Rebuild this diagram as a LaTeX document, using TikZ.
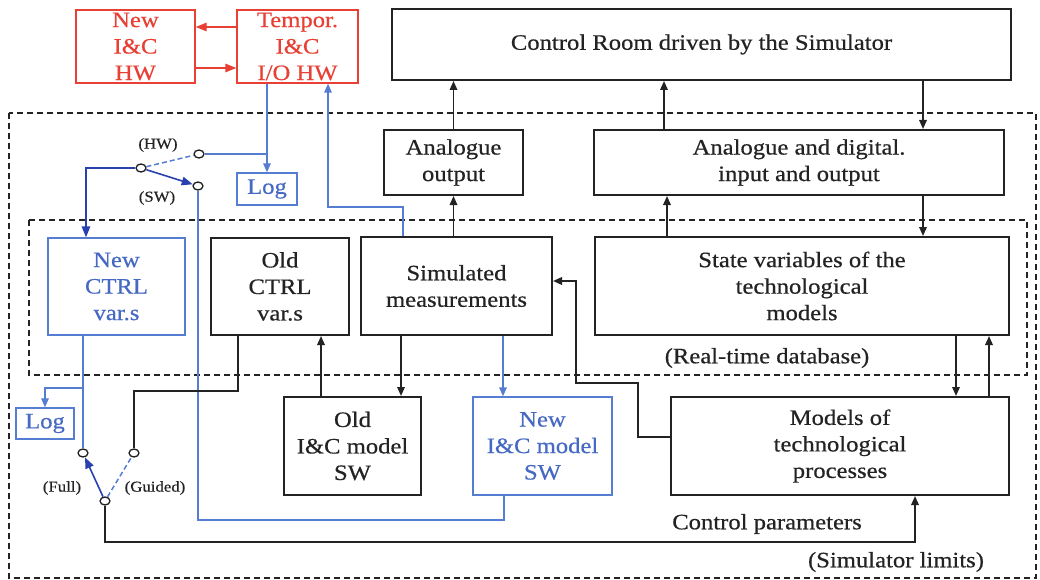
\documentclass[tikz,border=0pt]{standalone}
\usepackage{fontspec}
\setmainfont{Liberation Serif}[FakeStretch=1.12,FakeBold=0.5]
\usetikzlibrary{arrows.meta,shapes.geometric}
\definecolor{myred}{RGB}{232,64,52}
\definecolor{lblue}{RGB}{85,125,210}
\definecolor{dblue}{RGB}{40,65,175}
\definecolor{tblue}{RGB}{70,105,195}
\definecolor{ink}{RGB}{35,35,35}
\begin{document}
\begin{tikzpicture}[x=1pt,y=-1pt,
  every node/.style={font=\fontsize{22}{26.5}\selectfont, text=ink},
  box/.style={draw=ink, line width=2pt, inner sep=0pt, align=center},
  rbox/.style={draw=myred, line width=1.4pt, text=myred, inner sep=0pt, align=center},
  bbox/.style={draw=lblue, line width=1.4pt, text=tblue, inner sep=0pt, align=center},
  dashbox/.style={draw=ink, line width=1.6pt, dash pattern=on 6pt off 4pt},
  tip/.style={-{Triangle[length=9pt,width=7.5pt]}},
  bigtip/.style={-{Triangle[length=11pt,width=8.5pt]}},
  arr/.style={draw=ink, line width=1.7pt, tip},
  kline/.style={draw=ink, line width=1.7pt},
  rarr/.style={draw=myred, line width=1.4pt, bigtip},
  bline/.style={draw=lblue, line width=1.5pt},
  barr/.style={draw=lblue, line width=1.5pt, tip},
  dbarr/.style={draw=dblue, line width=1.6pt, bigtip},
  contact/.style={draw=ink, fill=white, ellipse, minimum width=10pt, minimum height=8pt, inner sep=0pt, line width=1.3pt},
  small/.style={font=\fontsize{15}{17}\selectfont},
]
\useasboundingbox (0,0) rectangle (1040,580);
\fill[white] (0,0) rectangle (1040,580);

% dashed frames
\draw[dashbox] (9,113) rectangle (1036,578);
\draw[dashbox] (29,220) rectangle (1027,375);

% boxes
\node[rbox, minimum width=119pt, minimum height=73pt] (newhw) at (135.5,46.5) {New\\I\&C\\HW};
\node[rbox, minimum width=121pt, minimum height=73pt] (temp) at (297.5,46.5) {Tempor.\\I\&C\\I/O HW};
\node[box, minimum width=619pt, minimum height=71pt] (cr) at (701.5,44.5) {Control Room driven by the Simulator};
\node[box, minimum width=139pt, minimum height=65pt] (ao) at (453.5,162.5) {Analogue\\output};
\node[box, minimum width=410pt, minimum height=65pt] (adio) at (799,162.5) {Analogue and digital.\\input and output};
\node[bbox, minimum width=137pt, minimum height=97pt] (newctrl) at (116.5,286.5) {New\\CTRL\\var.s};
\node[box, minimum width=138pt, minimum height=97pt] (oldctrl) at (280,286.5) {Old\\CTRL\\var.s};
\node[box, minimum width=191pt, minimum height=98pt] (simmeas) at (456.5,286) {Simulated\\measurements};
\node[box, minimum width=414pt, minimum height=98pt] (statevar) at (802,286) {State variables of the\\technological\\models};
\node[box, minimum width=137pt, minimum height=98pt] (oldic) at (352.5,446) {Old\\I\&C model\\SW};
\node[bbox, minimum width=139pt, minimum height=98pt] (newic) at (542.5,446) {New\\I\&C model\\SW};
\node[box, minimum width=338pt, minimum height=98pt] (models) at (840,446) {Models of\\technological\\processes};
\node[bbox, minimum width=60pt, minimum height=32pt] (log1) at (267,189) {Log};
\node[bbox, minimum width=58pt, minimum height=31pt] (log2) at (45,423.5) {Log};

% labels
\node[small] (lhw) at (158,145) {(HW)};
\node[small] (lsw) at (157,198) {(SW)};
\node[small] (lfull) at (62,488) {(Full)};
\node[small] (lguided) at (155,488) {(Guided)};
\node (lcp) at (767,524) {Control parameters};
\node (lrt) at (767,358) {(Real-time database)};
\node (lsl) at (896,562) {(Simulator limits)};

% red connectors
\draw[rarr] ([yshift=19.5pt]temp.west) -- ([yshift=19.5pt]newhw.east);
\draw[rarr] ([yshift=-21.5pt]newhw.east) -- ([yshift=-21.5pt]temp.west);

% switch contacts
\node[contact] (hw) at (199,154) {};
\node[contact] (sw) at (198,186) {};
\node[contact] (p1) at (141,168) {};
\node[contact] (full) at (83,453) {};
\node[contact] (guided) at (134,453) {};
\node[contact] (p2) at (105,501) {};

% helper coordinates
\coordinate (j1) at (328,207);
\coordinate (j2) at (267,154);
\coordinate (j4) at (83,388);
\coordinate (j5) at (86,168);
\coordinate (j6) at (238,391);
\coordinate (j7) at (915,542);
\coordinate (j8) at (504,520);
\coordinate (k1) at (638,383);
\coordinate (k2) at (576,281);
\coordinate (a1) at (321,0);
\coordinate (a2) at (401,0);
\coordinate (a3) at (503,0);
\coordinate (a4) at (664,0);
\coordinate (a5) at (923,0);
\coordinate (a6) at (667,0);
\coordinate (a7) at (956,0);
\coordinate (a8) at (989,0);

% blue connectors
\draw[barr] ([xshift=-53.5pt]simmeas.north) |- (j1) -- (j1 |- temp.south);
\draw[barr] (log1.north |- temp.south) -- (log1.north);
\draw[bline] (j2) -- (hw.east);
\draw[bline, dash pattern=on 5pt off 3pt] (p1) -- (hw);
\draw[dbarr] (p1) -- (sw);
\draw[dbarr] (p1.west) -- (j5) -- (j5 |- newctrl.north);
\draw[bline] (sw.south) |- (j8) -- (j8 |- newic.south);
\draw[bline] (full.north |- newctrl.south) -- (full.north);
\draw[barr] (j4) -| (log2.north);
\draw[dbarr] (p2) -- (full);
\draw[bline, dash pattern=on 5pt off 3pt] (p2) -- (guided);
\draw[barr] (simmeas.south -| a3) -- (newic.north -| a3);

% black connectors
\draw[kline] (j6 |- oldctrl.south) -- (j6) -| (guided.north);
\draw[arr] (p2.south) |- (j7) -- (j7 |- models.south);
\draw[arr] (oldic.north -| a1) -- (oldctrl.south -| a1);
\draw[arr] (simmeas.south -| a2) -- (oldic.north -| a2);
\draw[arr] (simmeas.north -| ao.south) -- (ao.south);
\draw[arr] (ao.north) -- (ao.north |- cr.south);
\draw[arr] (adio.north -| a4) -- (cr.south -| a4);
\draw[arr] (cr.south -| a5) -- (adio.north -| a5);
\draw[arr] (adio.south -| a5) -- (statevar.north -| a5);
\draw[arr] (statevar.north -| a6) -- (adio.south -| a6);
\draw[arr] (statevar.south -| a7) -- (models.north -| a7);
\draw[arr] (models.north -| a8) -- (statevar.south -| a8);
\draw[arr] ([yshift=9pt]models.west) -| (k1) -| (k2) -- (simmeas.east |- k2);
\end{tikzpicture}
\end{document}
